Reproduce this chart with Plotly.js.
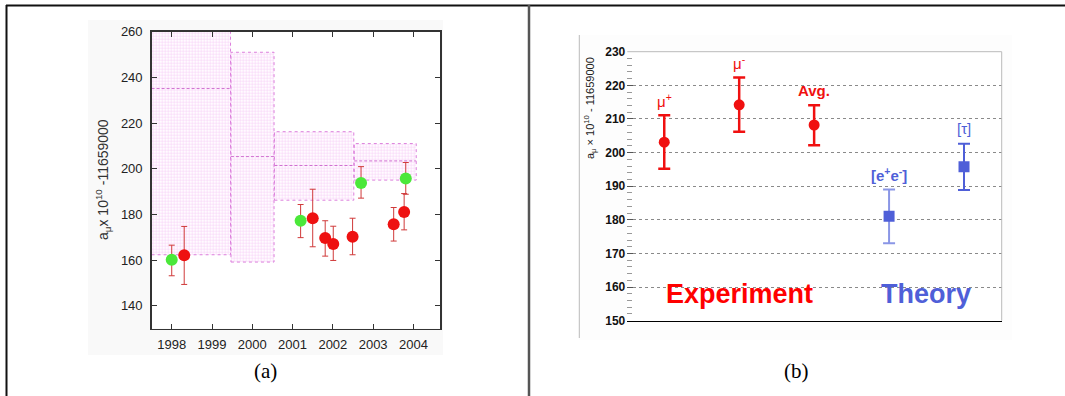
<!DOCTYPE html>
<html>
<head>
<meta charset="utf-8">
<script src="https://cdn.plot.ly/plotly-3.0.1.min.js"></script>
<style>html,body{margin:0;padding:0;background:#fff;}#chart{width:1065px;height:396px;}</style>
</head>
<body>
<div id="chart"></div>
<script>
// ---------- Panel (a): measurement history ----------
// theory/average bands (hatched boxes)
const bandStart  = [1997.50, 1999.47, 2000.55, 2002.53];
const bandEnd    = [1999.46, 2000.54, 2002.52, 2004.07];
const bandLow    = [162.3, 159.1, 186.2, 195.0];
const bandHigh   = [308.0, 251.0, 216.2, 211.0];
const bandCenter = [235.1, 205.3, 201.4, 203.4];

// green points
const greenX  = [1998.00, 2001.20, 2002.70, 2003.81];
const greenY  = [160.1, 177.2, 193.7, 195.7];
const greenHi = [166.5, 184.3, 200.9, 202.7];
const greenLo = [153.1, 169.8, 187.1, 188.8];

// red points
const redX  = [1998.31, 2001.50, 2001.81, 2002.01, 2002.49, 2003.51, 2003.77];
const redY  = [162.1, 178.3, 169.6, 167.0, 170.2, 175.7, 181.0];
const redHi = [174.7, 191.0, 177.2, 174.8, 178.3, 183.0, 189.1];
const redLo = [149.3, 165.8, 161.7, 159.8, 162.3, 168.3, 173.2];

const yearTicks = [1998, 1999, 2000, 2001, 2002, 2003, 2004];
const aTicks = [140, 160, 180, 200, 220, 240, 260];

// ---------- Panel (b): experiment vs theory ----------
const bLabels = ['μ<sup>+</sup>', 'μ<sup>-</sup>', '<b>Avg.</b>', '<b>[e<sup>+</sup>e<sup>-</sup>]</b>', '[τ]'];
const bX  = [1, 2, 3, 4, 5];
const bY  = [203.1, 214.2, 208.2, 181.1, 195.8];
const bHi = [211.1, 222.3, 214.1, 189.0, 202.6];
const bLo = [195.2, 206.2, 202.2, 173.0, 188.9];
const bGroup = ['exp', 'exp', 'exp', 'th', 'th'];
const groupLabels = ['Experiment', 'Theory'];

const RED = '#f01010', BLUE = '#4f5fd8', MAG = '#dc80dc';
const W = 1065, H = 396;
const px = v => v / W, py = v => 1 - v / H;

const traces = [];

// hatched bands as bars
traces.push({
  type: 'bar', xaxis: 'x', yaxis: 'y',
  x: bandStart.map((s, i) => (s + bandEnd[i]) / 2),
  width: bandStart.map((s, i) => bandEnd[i] - s),
  base: bandLow,
  y: bandHigh.map((h, i) => h - bandLow[i]),
  marker: {
    color: '#fff8ff',
    line: {width: 0},
    pattern: {shape: '+', fgcolor: '#f0b0f0', bgcolor: '#fffbff', size: 3, solidity: 0.18}
  },
  hoverinfo: 'skip', showlegend: false
});

// band outlines
const ox = [], oy = [];
bandStart.forEach((s, i) => {
  ox.push(s, bandEnd[i], bandEnd[i], s, s, null);
  oy.push(bandLow[i], bandLow[i], bandHigh[i], bandHigh[i], bandLow[i], null);
});
traces.push({type: 'scatter', mode: 'lines', xaxis: 'x', yaxis: 'y', x: ox, y: oy,
  line: {color: MAG, width: 1, dash: 'dot'}, hoverinfo: 'skip', showlegend: false});

// center lines
const cx = [], cy = [];
bandStart.forEach((s, i) => { cx.push(s, bandEnd[i], null); cy.push(bandCenter[i], bandCenter[i], null); });
traces.push({type: 'scatter', mode: 'lines', xaxis: 'x', yaxis: 'y', x: cx, y: cy,
  line: {color: '#d070d0', width: 1, dash: '3px,2px'}, hoverinfo: 'skip', showlegend: false});

// red points (a)
traces.push({type: 'scatter', mode: 'markers', xaxis: 'x', yaxis: 'y', x: redX, y: redY,
  error_y: {type: 'data', symmetric: false,
    array: redHi.map((h, i) => h - redY[i]), arrayminus: redY.map((v, i) => v - redLo[i]),
    color: '#d03a3a', thickness: 1, width: 3},
  marker: {color: '#ee1111', size: 12, line: {width: 0}}, showlegend: false});

// green points (a)
traces.push({type: 'scatter', mode: 'markers', xaxis: 'x', yaxis: 'y', x: greenX, y: greenY,
  error_y: {type: 'data', symmetric: false,
    array: greenHi.map((h, i) => h - greenY[i]), arrayminus: greenY.map((v, i) => v - greenLo[i]),
    color: '#d03a3a', thickness: 1, width: 3},
  marker: {color: '#4be83a', size: 12, line: {width: 0}}, showlegend: false});

// panel (b)
const expIdx = bGroup.map((g, i) => g === 'exp' ? i : -1).filter(i => i >= 0);
const thIdx = bGroup.map((g, i) => g === 'th' ? i : -1).filter(i => i >= 0);
function sub(arr, idx) { return idx.map(i => arr[i]); }

traces.push({type: 'scatter', mode: 'markers', xaxis: 'x2', yaxis: 'y2',
  x: sub(bX, expIdx), y: sub(bY, expIdx),
  error_y: {type: 'data', symmetric: false,
    array: expIdx.map(i => bHi[i] - bY[i]), arrayminus: expIdx.map(i => bY[i] - bLo[i]),
    color: RED, thickness: 2.5, width: 6},
  marker: {color: RED, size: 11, symbol: 'circle'}, showlegend: false});

traces.push({type: 'scatter', mode: 'markers', xaxis: 'x2', yaxis: 'y2',
  x: [bX[thIdx[0]]], y: [bY[thIdx[0]]],
  error_y: {type: 'data', symmetric: false,
    array: [bHi[thIdx[0]] - bY[thIdx[0]]], arrayminus: [bY[thIdx[0]] - bLo[thIdx[0]]],
    color: '#8a96e6', thickness: 2, width: 6},
  marker: {color: BLUE, size: 11, symbol: 'square'}, showlegend: false});

traces.push({type: 'scatter', mode: 'markers', xaxis: 'x2', yaxis: 'y2',
  x: [bX[thIdx[1]]], y: [bY[thIdx[1]]],
  error_y: {type: 'data', symmetric: false,
    array: [bHi[thIdx[1]] - bY[thIdx[1]]], arrayminus: [bY[thIdx[1]] - bLo[thIdx[1]]],
    color: BLUE, thickness: 2, width: 6},
  marker: {color: BLUE, size: 11, symbol: 'square'}, showlegend: false});

const annotations = [];
bLabels.forEach((t, i) => {
  annotations.push({xref: 'x2', yref: 'y2', x: bX[i], y: bHi[i], text: t, showarrow: false,
    xanchor: 'center', yanchor: 'middle', yshift: 15,
    font: {family: 'Liberation Sans, Arial', size: 15, color: bGroup[i] === 'exp' ? RED : BLUE}});
});
annotations.push({xref: 'x2', yref: 'y2', x: 2, y: 157.8, text: '<b>' + groupLabels[0] + '</b>', showarrow: false,
  xanchor: 'center', yanchor: 'middle',
  font: {family: 'Liberation Sans, Arial', size: 27, color: '#ff0000'}});
annotations.push({xref: 'x2', yref: 'y2', x: 4.49, y: 157.8, text: '<b>' + groupLabels[1] + '</b>', showarrow: false,
  xanchor: 'center', yanchor: 'middle',
  font: {family: 'Liberation Sans, Arial', size: 27, color: BLUE}});

// axis titles
annotations.push({xref: 'paper', yref: 'paper', x: px(103), y: py(180), textangle: -90, showarrow: false,
  xanchor: 'center', yanchor: 'middle',
  text: 'a<sub>μ</sub>x 10<sup>10</sup> -11659000', font: {family: 'Liberation Sans, Arial', size: 14, color: '#333'}});
annotations.push({xref: 'paper', yref: 'paper', x: px(590), y: py(108), textangle: -90, showarrow: false,
  xanchor: 'center', yanchor: 'middle',
  text: 'a<sub>μ</sub> × 10<sup>10</sup> - 11659000', font: {family: 'Liberation Sans, Arial', size: 11, color: '#222'}});

// captions
annotations.push({xref: 'paper', yref: 'paper', x: px(265), y: py(371), showarrow: false, text: '(a)',
  xanchor: 'center', yanchor: 'middle',
  font: {family: 'Liberation Serif, Times New Roman', size: 21, color: '#000'}});
annotations.push({xref: 'paper', yref: 'paper', x: px(796), y: py(371), showarrow: false, text: '(b)',
  xanchor: 'center', yanchor: 'middle',
  font: {family: 'Liberation Serif, Times New Roman', size: 21, color: '#000'}});

const shapes = [
  // faint image backgrounds
  {type: 'rect', xref: 'paper', yref: 'paper', x0: px(88), x1: px(443), y0: py(355), y1: py(20),
    fillcolor: '#f9f9f9', line: {width: 0}, layer: 'below'},
  {type: 'rect', xref: 'paper', yref: 'paper', x0: px(579), x1: px(1012), y0: py(340), y1: py(35),
    fillcolor: '#fdfdfd', line: {width: 0}, layer: 'below'},
  {type: 'rect', xref: 'x domain', yref: 'y domain', x0: 0, x1: 1, y0: 0, y1: 1,
    fillcolor: '#ffffff', line: {width: 0}, layer: 'below'},
  {type: 'rect', xref: 'x2 domain', yref: 'y2 domain', x0: 0, x1: 1, y0: 0, y1: 1,
    fillcolor: '#ffffff', line: {width: 0}, layer: 'below'},
  // frame
  {type: 'line', xref: 'paper', yref: 'paper', x0: px(6), x1: 1, y0: py(5.5), y1: py(5.5), line: {color: '#111', width: 2}},
  {type: 'line', xref: 'paper', yref: 'paper', x0: px(6.5), x1: px(6.5), y0: py(5), y1: 0, line: {color: '#111', width: 2}},
  {type: 'line', xref: 'paper', yref: 'paper', x0: px(529), x1: px(529), y0: py(5), y1: 0, line: {color: '#555', width: 2.5}},
  // panel b frame bits
  {type: 'line', xref: 'paper', yref: 'paper', x0: px(579.3), x1: px(579.3), y0: py(35), y1: py(338), line: {color: '#bbb', width: 1}},
  {type: 'line', xref: 'x2 domain', yref: 'y2 domain', x0: 0, x1: 1, y0: 1, y1: 1, line: {color: '#bbb', width: 1}},
  {type: 'line', xref: 'x2 domain', yref: 'y2 domain', x0: 1, x1: 1, y0: 0, y1: 1, line: {color: '#bbb', width: 1}}
];

const layout = {
  width: W, height: H,
  margin: {l: 0, r: 0, t: 0, b: 0},
  paper_bgcolor: '#ffffff', plot_bgcolor: 'rgba(0,0,0,0)',
  showlegend: false, barmode: 'overlay', bargap: 0,
  xaxis: {domain: [px(151.7), px(440)], range: [1997.503, 2004.66], anchor: 'y',
    tickvals: yearTicks, ticktext: yearTicks.map(String), ticks: 'inside', ticklen: 5, tickcolor: '#333',
    mirror: 'allticks', showline: true, linecolor: '#333', linewidth: 1.5, showgrid: false, zeroline: false,
    ticklabelstandoff: 3,
    tickfont: {family: 'Liberation Sans, Arial', size: 13, color: '#222'}},
  yaxis: {domain: [py(328.5), py(31.7)], range: [130, 260], anchor: 'x',
    tickvals: aTicks, ticks: 'inside', ticklen: 5, tickcolor: '#333',
    mirror: 'allticks', showline: true, linecolor: '#333', linewidth: 1.5, showgrid: false, zeroline: false,
    ticklabelstandoff: 5,
    tickfont: {family: 'Liberation Sans, Arial', size: 13, color: '#222'}},
  xaxis2: {domain: [px(627.3), px(1001.7)], range: [0.507, 5.503], anchor: 'y2',
    showticklabels: false, ticks: '', showgrid: false, zeroline: false,
    showline: true, linecolor: '#000', linewidth: 1.5},
  yaxis2: {domain: [py(320.7), py(51.7)], range: [150, 230], anchor: 'x2',
    dtick: 10, tick0: 150, ticks: 'inside', ticklen: 6, tickcolor: '#555',
    minor: {dtick: 2, ticks: 'inside', ticklen: 5, tickcolor: '#999', showgrid: false},
    showgrid: true, gridcolor: '#8a8a8a', griddash: 'dot', gridwidth: 1,
    showline: false, zeroline: false, ticklabelstandoff: 1,
    tickfont: {family: 'Liberation Sans, Arial', size: 12, color: '#111', weight: 'bold'}},
  shapes: shapes,
  annotations: annotations
};

Plotly.newPlot('chart', traces, layout, {displayModeBar: false, staticPlot: true});
</script>
</body>
</html>
